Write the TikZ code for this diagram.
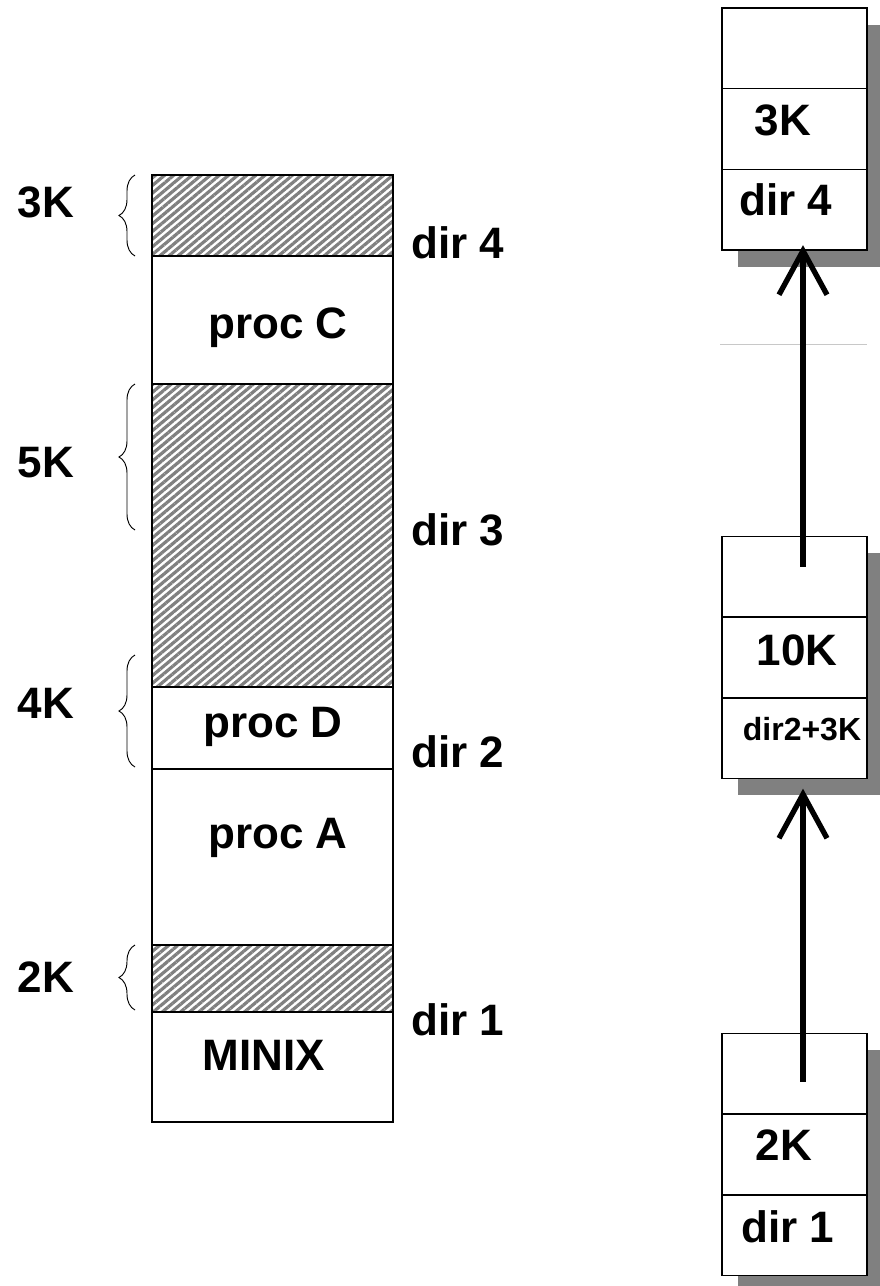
\documentclass[tikz,border=0pt]{standalone}
\usepackage{fontspec}
\setmainfont{Liberation Sans}
\usetikzlibrary{patterns.meta,decorations.pathreplacing,calc,shadows}
\definecolor{hatchgray}{HTML}{808080}
\definecolor{shadowgray}{HTML}{808080}
\definecolor{rulegray}{HTML}{C8C8C8}
\begin{document}
\begin{tikzpicture}[x=0.75pt,y=-0.75pt,
  lbl/.style={font=\fontsize{33}{33}\selectfont\bfseries, inner sep=0pt, anchor=base},
  small/.style={font=\fontsize{24}{24}\selectfont\bfseries, inner sep=0pt, anchor=base},
  cell/.style={draw=black, line width=1.1pt},
  hatch/.style={pattern={Lines[angle=40,distance=4.4pt,line width=2.4pt]}, pattern color=hatchgray},
  brc/.style={draw=black, line width=0.7pt, decorate, decoration={brace, amplitude=12pt, aspect=0.5}},
  rbox/.style={draw=black, line width=1.1pt, fill=white, inner sep=0pt,
    minimum width=108.75pt, minimum height=181.5pt,
    drop shadow={shadow xshift=12pt, shadow yshift=-12.5pt, fill=shadowgray, opacity=1}},
  arr/.style={line width=4pt}
]
\useasboundingbox (0,0) rectangle (879,1286);
\fill[white] (0,0) rectangle (879,1286);

% left memory column
\draw[cell, hatch] (152,175) rectangle (393,256);
\draw[cell] (152,256) rectangle (393,384);
\draw[cell, hatch] (152,384) rectangle (393,687);
\draw[cell] (152,687) rectangle (393,769);
\draw[cell] (152,769) rectangle (393,945);
\draw[cell, hatch] (152,945) rectangle (393,1012);
\draw[cell] (152,1012) rectangle (393,1122);

\node[lbl] (pc) at (278,338) {proc C};
\node[lbl] (pd) at (273,737) {proc D};
\node[lbl] (pa) at (278,848) {proc A};
\node[lbl] (mx) at (264,1070) {MINIX};

% braces and sizes
\draw[brc] (135,256) -- (135,175);
\draw[brc] (135,530) -- (135,384);
\draw[brc] (135,767) -- (135,655);
\draw[brc] (135,1010) -- (135,945);
\node[lbl] (k3) at (46,217) {3K};
\node[lbl] (k5) at (46,477) {5K};
\node[lbl] (k4) at (46,718) {4K};
\node[lbl] (k2) at (46,992) {2K};

% dir labels
\node[lbl] (d4) at (458,258) {dir 4};
\node[lbl] (d3) at (458,545) {dir 3};
\node[lbl] (d2) at (458,767) {dir 2};
\node[lbl] (d1) at (458,1035) {dir 1};

% right list boxes
\node[rbox] (b1) at (794.5,129) {};
\node[rbox] (b2) at (794.5,657.5) {};
\node[rbox] (b3) at (794.5,1154.5) {};
\foreach \b in {b1,b2,b3}{
  \draw[line width=1.1pt] ($(\b.north west)!1/3!(\b.south west)$) -- ($(\b.north east)!1/3!(\b.south east)$);
  \draw[line width=1.1pt] ($(\b.north west)!2/3!(\b.south west)$) -- ($(\b.north east)!2/3!(\b.south east)$);
}
\node[lbl] (t1a) at (783,135) {3K};
\node[lbl] (t1b) at (786,215) {dir 4};
\node[lbl] (t2a) at (797,665) {10K};
\node[small] (t2b) at (802,740) {dir2+3K};
\node[lbl] (t3a) at (784,1160) {2K};
\node[lbl] (t3b) at (788,1242) {dir 1};

% faint rule
\draw[rulegray, line width=0.75pt] (720,344) -- (867,344);

% arrows
\coordinate (a1s) at ($(b2.north)+(8.5,31)$);
\coordinate (a1t) at ($(b1.south)+(8.5,0)$);
\coordinate (a2s) at ($(b3.north)+(8.5,49)$);
\coordinate (a2t) at ($(b2.south)+(8.5,15)$);
\draw[arr] (a1s) -- (a1t);
\draw[arr, line join=miter] ($(a1t)+(-24,44)$) -- (a1t) -- ($(a1t)+(24,44)$);
\draw[arr] (a2s) -- (a2t);
\draw[arr, line join=miter] ($(a2t)+(-24,44)$) -- (a2t) -- ($(a2t)+(24,44)$);
\end{tikzpicture}
\end{document}
